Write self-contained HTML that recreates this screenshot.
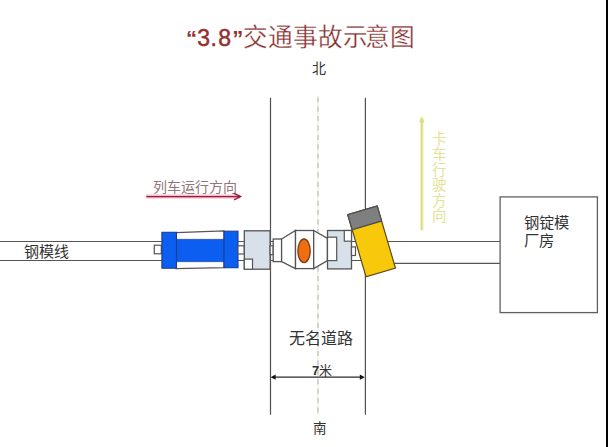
<!DOCTYPE html>
<html lang="zh-CN"><head><meta charset="utf-8">
<style>
html,body{margin:0;padding:0;background:#fff;width:608px;height:447px;overflow:hidden}
svg{position:absolute;left:0;top:0}
text{font-family:"Liberation Sans",sans-serif}
</style></head><body>
<svg width="608" height="447" viewBox="0 0 608 447">
<!-- title -->
<text x="197.3 210.5 218.2" y="45.5" font-size="23" fill="#96302f" stroke="#96302f" stroke-width="0.5">3.8</text>
<text x="186" y="46" font-size="22" font-weight="bold" fill="#96302f">“</text><text x="232.3" y="46" font-size="22" font-weight="bold" fill="#96302f">”</text>
<text x="243.3" y="46.4" font-size="24.7" fill="#842c2c" stroke="#fff" stroke-width="0.3">交通事故示<tspan dx="-3">意</tspan><tspan dx="-0.7">图</tspan></text>
<text x="311.5" y="73" font-size="14" fill="#333">北</text>

<!-- road -->
<line x1="270.5" y1="97.7" x2="270.5" y2="414.8" stroke="#505050" stroke-width="1.2"/>
<line x1="365.4" y1="97.7" x2="365.4" y2="414.8" stroke="#505050" stroke-width="1.2"/>
<line x1="318" y1="95.5" x2="318" y2="415" stroke="#f2efe8" stroke-width="1.6"/>
<line x1="318" y1="95.8" x2="318" y2="413" stroke="#bcbab2" stroke-width="1.1" stroke-dasharray="5 4.4" stroke-dashoffset="-1.5"/>

<!-- rails -->
<line x1="0" y1="241.5" x2="365" y2="241.5" stroke="#555" stroke-width="1.2"/>
<line x1="0" y1="260.5" x2="365" y2="260.5" stroke="#555" stroke-width="1.2"/>
<line x1="365" y1="241.5" x2="500" y2="241.5" stroke="#555" stroke-width="1.2"/>
<line x1="365" y1="263.3" x2="500" y2="263.3" stroke="#555" stroke-width="1.2"/>
<text x="24" y="257" font-size="15" fill="#333">钢模线</text>

<!-- train car blue -->
<rect x="154.3" y="245.2" width="7" height="8.6" fill="#fff" stroke="#555" stroke-width="1.2"/>
<polygon points="176,232.6 224,230.8 224,267.6 176,268.6" fill="#fff" stroke="#555" stroke-width="1.2"/>
<rect x="176" y="239.2" width="48" height="22.6" fill="#0c5ef0" stroke="#2a4a9a" stroke-width="0.6"/>
<rect x="161.9" y="232.3" width="14.6" height="35.9" fill="#0c5ef0" stroke="#1c3c94" stroke-width="1.1"/>
<rect x="224" y="231.2" width="14" height="36.5" fill="#0c5ef0" stroke="#1c3c94" stroke-width="1.1"/>
<rect x="238" y="245.8" width="6.3" height="8.2" fill="#fff" stroke="#555" stroke-width="1.2"/>

<!-- grey box 1 -->
<rect x="244.3" y="230.8" width="25.8" height="38.4" fill="#d8e0ea" stroke="#555" stroke-width="1.3"/>
<rect x="244.3" y="259.1" width="8.2" height="10.1" fill="#fff" stroke="#555" stroke-width="1.2"/>
<rect x="270.1" y="245.8" width="3.1" height="8.9" fill="#fff" stroke="#555" stroke-width="1.2"/>

<!-- middle car -->
<rect x="273.2" y="239" width="8.4" height="22.6" fill="#fff" stroke="#555" stroke-width="1.3"/>
<polygon points="281.6,239 295.5,230.5 295.5,268.6 281.6,261.6" fill="#fff" stroke="#555" stroke-width="1.3"/>
<rect x="295.5" y="230.5" width="18.2" height="38.1" fill="#fff" stroke="#555" stroke-width="1.3"/>
<ellipse cx="304.05" cy="250.8" rx="6.15" ry="11.8" fill="#ee6e12" stroke="#7e3a0e" stroke-width="1.3"/>
<polygon points="313.7,230.5 327.5,238.4 327.5,260.6 313.7,268.6" fill="#fff" stroke="#555" stroke-width="1.3"/>

<!-- grey box 2 -->
<rect x="327.5" y="230.5" width="24" height="38.4" fill="#d8e0ea" stroke="#555" stroke-width="1.3"/>
<rect x="327.5" y="237.2" width="9.2" height="23.4" fill="#fff" stroke="#555" stroke-width="1.2"/>
<rect x="344.3" y="230.5" width="7.2" height="10.7" fill="#fff" stroke="#555" stroke-width="1.2"/>
<rect x="351.5" y="246.9" width="4" height="8.6" fill="#fff" stroke="#555" stroke-width="1.2"/>

<!-- truck -->
<g transform="translate(371.6 241.4) rotate(-16.4)">
<rect x="-15.35" y="-32.35" width="30.7" height="64.7" fill="#f8c80a" stroke="#5a4a20" stroke-width="1.2"/>
<rect x="-15.35" y="-32.35" width="30.7" height="15.6" fill="#7f7f7f" stroke="#4a4a4a" stroke-width="1.2"/>
</g>

<!-- factory -->
<rect x="500.1" y="196.9" width="97.3" height="115.7" fill="#fff" stroke="#606060" stroke-width="1.3"/>
<text x="523.8" y="228.3" font-size="15.3" fill="#333">钢锭模</text>
<text x="523.8" y="246.4" font-size="15.3" fill="#333">厂房</text>

<!-- yellow arrow -->
<line x1="421.8" y1="230.3" x2="421.8" y2="118" stroke="#f3f3c6" stroke-width="3.5"/>
<line x1="421.8" y1="230.3" x2="421.8" y2="121" stroke="#d8d87a" stroke-width="1.5"/>
<polygon points="421.8,116.3 419,122.5 424.6,122.5" fill="#dcdc84"/>
<g font-size="14.5" fill="#e3e396">
<text x="431.8" y="143.5">卡</text><text x="431.8" y="159">车</text><text x="431.8" y="174.5">行</text><text x="431.8" y="190">驶</text><text x="431.8" y="205.5">方</text><text x="431.8" y="221">向</text>
</g>
<!-- red arrow -->
<text x="152.5" y="191.5" font-size="14" fill="#93767b">列车运行方向</text>
<line x1="146.3" y1="196.6" x2="240" y2="196.6" stroke="#f3bccb" stroke-width="4"/>
<line x1="146.3" y1="196.6" x2="240" y2="196.6" stroke="#961e40" stroke-width="1.4"/>
<polyline points="234,193.4 240.6,196.6 234,199.9" fill="none" stroke="#961e40" stroke-width="1.4"/>

<!-- road label & dimension -->
<text x="289.4" y="344" font-size="16" fill="#333">无名道路</text>
<text x="312" y="374.6" font-size="13" fill="#333"><tspan font-weight="bold">7</tspan>米</text>
<line x1="274" y1="377.2" x2="361" y2="377.2" stroke="#2a2a2a" stroke-width="1.2"/>
<polygon points="270.6,377.2 275.6,374.6 275.6,379.8" fill="#111"/>
<polygon points="364.8,377.2 359.8,374.6 359.8,379.8" fill="#111"/>
<text x="312.6" y="432.6" font-size="13.5" fill="#333">南</text>
<rect x="606" y="0" width="2" height="447" fill="#000"/>
</svg>
</body></html>
